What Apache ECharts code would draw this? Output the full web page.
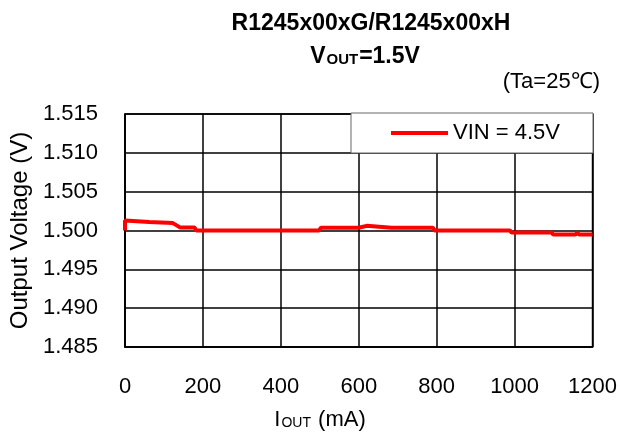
<!DOCTYPE html>
<html>
<head>
<meta charset="utf-8">
<script src="https://cdn.jsdelivr.net/npm/echarts@6/dist/echarts.min.js"></script>
<style>html,body{margin:0;padding:0;background:#fff;}#c{width:620px;height:435px;}</style>
</head>
<body>
<div id="c"></div>
<script>
var seriesName = 'VIN = 4.5V';
var iout = [0, 0, 2, 62, 66, 123, 141, 178, 183, 300, 498, 503, 600, 604, 620, 624, 684, 689, 694, 790, 795, 988, 992, 1095, 1099, 1156, 1161, 1166, 1200];
var vout = [1.5000, 1.5013, 1.5011, 1.5011, 1.50095, 1.50095, 1.5004, 1.5004, 1.5000, 1.5000, 1.5000, 1.50035, 1.50035, 1.5006, 1.5006, 1.50035, 1.50035, 1.5006, 1.50035, 1.50035, 1.5000, 1.5000, 1.49974, 1.49974, 1.49948, 1.49948, 1.49974, 1.49948, 1.49948];
var yTicks = ['1.485', '1.490', '1.495', '1.500', '1.505', '1.510', '1.515'];
var xTicks = ['0', '200', '400', '600', '800', '1000', '1200'];

var FONT = '"Liberation Sans", Arial, sans-serif';
var data = iout.map(function (x, i) { return [x, vout[i]]; });
var chart = echarts.init(document.getElementById('c'), null, {renderer: 'canvas'});
chart.setOption({
  animation: false,
  backgroundColor: '#fff',
  textStyle: {fontFamily: FONT},
  title: [
    {text: 'R1245x00xG/R1245x00xH', left: 366, top: 7, textAlign: 'center',
     textStyle: {fontFamily: FONT, fontSize: 23, fontWeight: 'bold', color: '#000'}},
    {text: '{v|V}{s|OUT}{v|=1.5V}', left: 360, top: 40, textAlign: 'center',
     textStyle: {fontFamily: FONT, rich: {
       v: {fontFamily: FONT, fontSize: 23, fontWeight: 'bold', color: '#000', verticalAlign: 'bottom'},
       s: {fontFamily: FONT, fontSize: 15, fontWeight: 'bold', color: '#000', verticalAlign: 'bottom', padding: [0, 1, 1, 1]}
     }}},
    {text: '(Ta=25℃)', left: 595, top: 66, textAlign: 'right',
     textStyle: {fontFamily: FONT, fontSize: 22, fontWeight: 'normal', color: '#000'}},
    {text: '{v|I}{s|OUT}{v| (mA)}', left: 315, top: 404, textAlign: 'center',
     textStyle: {fontFamily: FONT, fontWeight: 'normal', rich: {
       v: {fontFamily: FONT, fontSize: 22, fontWeight: 'normal', color: '#000', verticalAlign: 'bottom'},
       s: {fontFamily: FONT, fontSize: 14, fontWeight: 'normal', color: '#000', verticalAlign: 'bottom', padding: [0, 1, 1, 1]}
     }}}
  ],
  legend: {
    left: 351, top: 113,
    padding: [9, 33, 9, 40],
    backgroundColor: '#fff',
    borderColor: '#666', borderWidth: 1,
    itemWidth: 57, itemHeight: 4, itemGap: 10,
    icon: 'rect',
    textStyle: {fontFamily: FONT, fontSize: 22, color: '#000'},
    data: [seriesName]
  },
  grid: {left: 125, right: 27, top: 114, bottom: 88, show: true, borderColor: '#000', borderWidth: 1.5},
  xAxis: {
    type: 'value', min: 0, max: 1200, interval: 200,
    axisLine: {show: true, lineStyle: {color: '#000', width: 1.5}},
    axisTick: {show: false},
    splitLine: {show: true, lineStyle: {color: '#000', width: 1.5}},
    axisLabel: {fontFamily: FONT, fontSize: 22, color: '#000', margin: 29,
      formatter: function (v) { var i = Math.round(v / 200); return xTicks[i]; }}
  },
  yAxis: {
    type: 'value', min: 1.485, max: 1.515, interval: 0.005,
    name: 'Output Voltage (V)', nameLocation: 'middle', nameGap: 93,
    nameTextStyle: {fontFamily: FONT, fontSize: 24, color: '#000'},
    axisLine: {show: true, lineStyle: {color: '#000', width: 1.5}},
    axisTick: {show: false},
    splitLine: {show: true, lineStyle: {color: '#000', width: 1.5}},
    axisLabel: {fontFamily: FONT, fontSize: 22, color: '#000', margin: 27,
      formatter: function (v) { var i = Math.round((v - 1.485) / 0.005); return yTicks[i]; }}
  },
  series: [{
    name: seriesName, type: 'line', data: data,
    showSymbol: false, symbol: 'none',
    lineStyle: {color: '#ff0000', width: 4},
    itemStyle: {color: '#ff0000'},
    z: 3
  }]
});
</script>
</body>
</html>
